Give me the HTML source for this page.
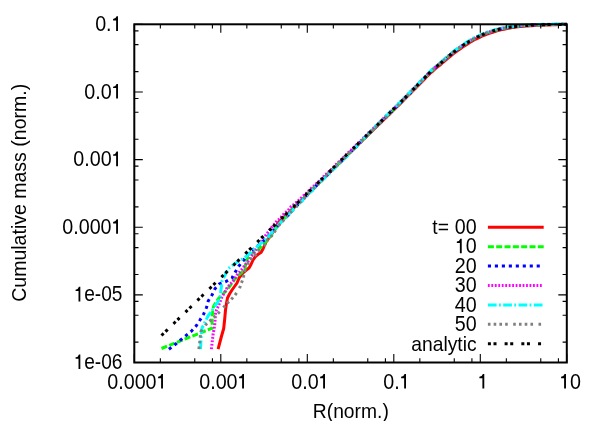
<!DOCTYPE html>
<html><head><meta charset="utf-8"><title>plot</title>
<style>html,body{margin:0;padding:0;background:#fff}svg{display:block;will-change:transform;opacity:0.999}text{font-family:"Liberation Sans",sans-serif;font-size:20.3px;fill:#000;white-space:pre}</style></head><body>
<svg width="600" height="421" viewBox="0 0 600 421">
<rect width="600" height="421" fill="#fff"/>
<path d="M218.1 349.1 L221.0 338.0 L223.7 328.5 L224.8 318.0 L225.5 310.0 L226.5 303.0 L227.5 298.0 L229.5 294.0 L232.0 290.0 L234.5 286.5 L237.0 283.0 L238.3 280.0 L239.0 278.0 L241.0 275.3 L243.0 273.0 L246.0 270.3 L249.0 268.0 L251.0 264.5 L253.0 260.0 L254.5 257.8 L256.0 256.0 L258.5 254.0 L261.0 252.5 L263.0 249.0 L264.0 246.5 L266.0 242.0 L269.0 237.8 L272.0 233.5 L275.0 229.0 L278.0 223.0 L280.0 220.7 L282.0 219.3 L284.0 217.5 L286.0 215.3 L288.0 213.5 L290.0 211.5 L292.0 209.3 L294.0 207.6 L296.0 205.6 L298.0 203.4 L300.0 201.3 L302.0 199.6 L304.0 197.8 L306.0 195.1 L308.0 193.2 L310.0 191.2 L312.0 189.4 L314.0 187.9 L316.0 185.7 L318.0 183.6 L320.0 182.0 L322.0 180.0 L324.0 177.9 L326.0 176.0 L328.0 174.2 L330.0 171.9 L332.0 170.3 L334.0 168.0 L336.0 166.0 L338.0 164.2 L340.0 162.5 L342.0 160.3 L344.0 158.3 L346.0 156.5 L348.0 154.3 L350.0 152.4 L352.0 150.6 L354.0 148.7 L356.0 146.9 L358.0 144.6 L360.0 142.7 L362.0 140.7 L364.0 138.9 L366.0 137.1 L368.0 135.0 L370.0 133.2 L372.0 131.2 L374.0 129.1 L376.0 127.2 L378.0 125.2 L380.0 123.5 L382.0 121.4 L384.0 119.5 L386.0 117.7 L388.0 115.5 L390.0 113.8 L392.0 111.8 L394.0 109.6 L396.0 107.7 L398.0 105.9 L400.0 103.9 L402.0 102.0 L404.0 99.8 L406.0 97.8 L408.0 95.7 L410.0 93.9 L412.0 91.7 L414.0 89.7 L416.0 87.8 L418.0 85.7 L420.0 83.6 L422.0 81.6 L424.0 79.6 L426.0 77.5 L428.0 75.5 L430.0 73.4 L432.0 71.8 L434.0 70.0 L436.0 68.2 L438.0 66.6 L440.0 65.1 L442.0 63.2 L444.0 61.5 L446.0 59.9 L448.0 58.2 L450.0 56.6 L452.0 54.9 L454.0 53.2 L456.0 51.8 L458.0 50.3 L460.0 48.9 L462.0 47.5 L464.0 46.1 L466.0 44.9 L468.0 43.7 L470.0 42.3 L472.0 41.1 L474.0 40.0 L476.0 39.0 L478.0 38.2 L480.0 37.1 L482.0 36.1 L484.0 35.4 L486.0 34.6 L488.0 33.7 L490.0 33.1 L492.0 32.5 L494.0 31.8 L496.0 31.2 L498.0 30.5 L500.0 30.0 L502.0 29.6 L504.0 29.2 L506.0 28.7 L508.0 28.3 L510.0 28.0 L512.0 27.6 L514.0 27.5 L516.0 27.1 L518.0 26.8 L520.0 26.6 L522.0 26.5 L524.0 26.2 L526.0 26.0 L528.0 26.0 L530.0 25.8 L532.0 25.7 L534.0 25.4 L536.0 25.3 L538.0 25.3 L540.0 25.2 L542.0 25.1 L544.0 25.0 L546.0 25.0 L548.0 25.0 L550.0 24.9 L552.0 24.8 L554.0 24.7 L556.0 24.7 L558.0 24.6 L560.0 24.6 L562.0 24.6 L564.0 24.6 L566.0 24.6 L566.8 24.5" stroke="#ff0000" stroke-width="3" fill="none" stroke-linejoin="round"/>
<path d="M161.5 348.5 L212.5 328.0 L212.0 321.0 L212.5 313.0 L213.5 306.5 L216.0 302.0 L219.0 298.0 L224.0 293.0 L230.0 286.0 L235.0 279.0 L240.0 274.0 L245.0 269.0 L246.0 260.5 L252.0 253.5 L258.0 250.0 L263.0 245.0 L267.0 240.5 L271.0 235.0 L275.0 229.5 L280.0 223.0 L282.0 220.7 L284.0 219.1 L286.0 216.7 L288.0 214.1 L290.0 212.1 L292.0 209.3 L294.0 207.2 L296.0 205.4 L298.0 203.7 L300.0 201.5 L302.0 199.3 L304.0 197.7 L306.0 195.1 L308.0 193.2 L310.0 191.6 L312.0 189.8 L314.0 187.2 L316.0 185.3 L318.0 183.7 L320.0 181.5 L322.0 179.9 L324.0 177.4 L326.0 175.8 L328.0 173.9 L330.0 171.5 L332.0 170.0 L334.0 168.1 L336.0 165.7 L338.0 163.8 L340.0 162.1 L342.0 160.2 L344.0 158.1 L346.0 156.0 L348.0 154.0 L350.0 152.4 L352.0 150.3 L354.0 148.2 L356.0 146.4 L358.0 144.5 L360.0 142.5 L362.0 140.3 L364.0 138.5 L366.0 136.5 L368.0 134.7 L370.0 132.8 L372.0 130.6 L374.0 128.7 L376.0 126.7 L378.0 124.7 L380.0 122.8 L382.0 120.9 L384.0 119.0 L386.0 116.9 L388.0 114.9 L390.0 113.2 L392.0 111.2 L394.0 109.3 L396.0 107.3 L398.0 105.3 L400.0 103.3 L402.0 101.3 L404.0 99.1 L406.0 97.3 L408.0 95.2 L410.0 93.0 L412.0 91.1 L414.0 88.8 L416.0 87.0 L418.0 84.9 L420.0 82.7 L422.0 80.8 L424.0 78.5 L426.0 76.4 L428.0 74.4 L430.0 72.5 L432.0 70.5 L434.0 68.9 L436.0 67.1 L438.0 65.4 L440.0 63.7 L442.0 62.0 L444.0 60.4 L446.0 58.6 L448.0 56.8 L450.0 55.2 L452.0 53.4 L454.0 52.0 L456.0 50.5 L458.0 49.0 L460.0 47.6 L462.0 46.1 L464.0 44.8 L466.0 43.5 L468.0 42.2 L470.0 41.0 L472.0 39.8 L474.0 38.9 L476.0 37.9 L478.0 36.7 L480.0 35.8 L482.0 35.0 L484.0 34.1 L486.0 33.4 L488.0 32.7 L490.0 32.0 L492.0 31.3 L494.0 30.7 L496.0 30.1 L498.0 29.7 L500.0 29.1 L502.0 28.6 L504.0 28.2 L506.0 27.9 L508.0 27.5 L510.0 27.2 L512.0 26.9 L514.0 26.7 L516.0 26.4 L518.0 26.3 L520.0 26.1 L522.0 25.8 L524.0 25.8 L526.0 25.6 L528.0 25.4 L530.0 25.2 L532.0 25.1 L534.0 25.1 L536.0 25.0 L538.0 24.9 L540.0 24.7 L542.0 24.8 L544.0 24.7 L546.0 24.7 L548.0 24.6 L550.0 24.4 L552.0 24.4 L554.0 24.5 L556.0 24.5 L558.0 24.4 L560.0 24.3 L562.0 24.4 L564.0 24.3 L566.0 24.4 L566.8 24.3" stroke="#00ff00" stroke-width="3" fill="none" stroke-linejoin="round" stroke-dasharray="6.0 2.32"/>
<path d="M168.9 349.2 L175.5 344.2 L181.0 339.6 L186.5 335.2 L191.8 330.8 L196.3 325.7 L200.0 320.0 L203.7 314.0 L206.5 307.5 L208.2 301.0 L212.0 295.0 L215.0 288.7 L219.3 284.0 L226.0 281.5 L232.0 278.0 L235.2 272.2 L238.5 266.5 L242.8 261.2 L246.5 256.5 L250.5 251.5 L256.0 247.3 L261.0 243.5 L266.0 238.2 L271.0 233.0 L276.0 227.8 L281.0 222.5 L283.0 220.5 L285.0 218.4 L287.0 216.4 L289.0 214.7 L291.0 211.6 L293.0 209.8 L295.0 208.2 L297.0 205.4 L299.0 203.9 L301.0 201.8 L303.0 199.3 L305.0 197.6 L307.0 195.2 L309.0 193.7 L311.0 191.4 L313.0 189.7 L315.0 187.1 L317.0 185.0 L319.0 183.1 L321.0 181.3 L323.0 179.3 L325.0 177.0 L327.0 175.4 L329.0 173.3 L331.0 171.2 L333.0 169.5 L335.0 167.2 L337.0 165.4 L339.0 163.3 L341.0 161.7 L343.0 159.6 L345.0 157.7 L347.0 155.6 L349.0 153.4 L351.0 151.5 L353.0 149.4 L355.0 147.8 L357.0 145.7 L359.0 143.8 L361.0 141.7 L363.0 139.6 L365.0 137.5 L367.0 135.4 L369.0 133.5 L371.0 131.7 L373.0 129.9 L375.0 127.6 L377.0 126.0 L379.0 123.9 L381.0 121.8 L383.0 120.0 L385.0 117.9 L387.0 116.0 L389.0 114.0 L391.0 112.1 L393.0 110.2 L395.0 108.0 L397.0 106.2 L399.0 104.1 L401.0 102.2 L403.0 100.1 L405.0 98.2 L407.0 96.0 L409.0 94.0 L411.0 92.1 L413.0 89.8 L415.0 87.7 L417.0 85.9 L419.0 83.7 L421.0 81.6 L423.0 79.6 L425.0 77.5 L427.0 75.6 L429.0 73.4 L431.0 71.5 L433.0 69.6 L435.0 68.0 L437.0 66.2 L439.0 64.5 L441.0 62.9 L443.0 61.3 L445.0 59.3 L447.0 57.6 L449.0 55.9 L451.0 54.3 L453.0 52.6 L455.0 51.2 L457.0 49.6 L459.0 48.2 L461.0 46.8 L463.0 45.5 L465.0 44.2 L467.0 42.9 L469.0 41.6 L471.0 40.4 L473.0 39.4 L475.0 38.2 L477.0 37.2 L479.0 36.2 L481.0 35.3 L483.0 34.6 L485.0 33.6 L487.0 33.0 L489.0 32.2 L491.0 31.7 L493.0 31.0 L495.0 30.4 L497.0 29.8 L499.0 29.2 L501.0 28.9 L503.0 28.4 L505.0 28.0 L507.0 27.6 L509.0 27.3 L511.0 26.9 L513.0 26.8 L515.0 26.5 L517.0 26.2 L519.0 26.1 L521.0 25.9 L523.0 25.8 L525.0 25.5 L527.0 25.4 L529.0 25.4 L531.0 25.2 L533.0 25.0 L535.0 24.9 L537.0 24.8 L539.0 24.7 L541.0 24.7 L543.0 24.6 L545.0 24.5 L547.0 24.5 L549.0 24.4 L551.0 24.3 L553.0 24.3 L555.0 24.4 L557.0 24.3 L559.0 24.3 L561.0 24.3 L563.0 24.2 L565.0 24.2 L566.8 24.2" stroke="#0000ff" stroke-width="3" fill="none" stroke-linejoin="round" stroke-dasharray="3.1 3.87"/>
<path d="M211.4 349.1 L213.0 335.0 L214.7 325.0 L215.5 314.0 L216.5 310.0 L217.5 308.0 L222.0 297.0 L227.0 288.0 L233.0 281.0 L237.0 275.0 L241.0 270.5 L245.5 264.5 L250.0 259.0 L253.5 253.0 L257.0 247.5 L262.0 240.5 L267.0 233.5 L272.0 227.0 L277.0 221.0 L279.0 219.3 L281.0 217.3 L283.0 214.9 L285.0 213.1 L287.0 211.4 L289.0 209.2 L291.0 206.7 L293.0 205.2 L295.0 203.2 L297.0 202.0 L299.0 200.1 L301.0 198.1 L303.0 196.3 L305.0 194.3 L307.0 192.8 L309.0 190.5 L311.0 188.5 L313.0 186.6 L315.0 185.3 L317.0 183.0 L319.0 181.5 L321.0 179.4 L323.0 177.2 L325.0 175.1 L327.0 173.4 L329.0 171.6 L331.0 169.8 L333.0 167.8 L335.0 165.4 L337.0 163.7 L339.0 161.7 L341.0 160.0 L343.0 157.8 L345.0 156.0 L347.0 153.8 L349.0 152.0 L351.0 150.3 L353.0 148.3 L355.0 146.0 L357.0 144.4 L359.0 142.3 L361.0 140.6 L363.0 138.4 L365.0 136.6 L367.0 134.4 L369.0 132.4 L371.0 130.8 L373.0 128.8 L375.0 126.8 L377.0 124.7 L379.0 123.0 L381.0 120.8 L383.0 119.0 L385.0 116.9 L387.0 115.0 L389.0 113.3 L391.0 111.1 L393.0 109.1 L395.0 107.3 L397.0 105.3 L399.0 103.3 L401.0 101.4 L403.0 99.5 L405.0 97.3 L407.0 95.5 L409.0 93.2 L411.0 91.2 L413.0 89.1 L415.0 87.1 L417.0 85.2 L419.0 83.1 L421.0 81.1 L423.0 79.0 L425.0 77.0 L427.0 74.9 L429.0 72.8 L431.0 70.8 L433.0 69.3 L435.0 67.4 L437.0 65.7 L439.0 64.1 L441.0 62.5 L443.0 60.8 L445.0 58.8 L447.0 57.3 L449.0 55.5 L451.0 53.9 L453.0 52.3 L455.0 50.8 L457.0 49.2 L459.0 47.7 L461.0 46.4 L463.0 45.1 L465.0 43.8 L467.0 42.5 L469.0 41.3 L471.0 40.1 L473.0 38.9 L475.0 38.0 L477.0 36.9 L479.0 36.0 L481.0 35.1 L483.0 34.1 L485.0 33.5 L487.0 32.8 L489.0 32.0 L491.0 31.3 L493.0 30.7 L495.0 30.1 L497.0 29.5 L499.0 29.1 L501.0 28.5 L503.0 28.1 L505.0 27.8 L507.0 27.4 L509.0 27.1 L511.0 26.9 L513.0 26.6 L515.0 26.4 L517.0 26.1 L519.0 25.9 L521.0 25.7 L523.0 25.6 L525.0 25.5 L527.0 25.3 L529.0 25.2 L531.0 25.1 L533.0 25.0 L535.0 24.9 L537.0 24.8 L539.0 24.7 L541.0 24.6 L543.0 24.7 L545.0 24.6 L547.0 24.5 L549.0 24.4 L551.0 24.4 L553.0 24.4 L555.0 24.4 L557.0 24.4 L559.0 24.4 L561.0 24.4 L563.0 24.3 L565.0 24.4 L566.8 24.3" stroke="#ff00ff" stroke-width="3" fill="none" stroke-linejoin="round" stroke-dasharray="1.8 1.67"/>
<path d="M200.5 349.1 L201.2 336.0 L202.0 328.0 L205.0 322.0 L208.0 316.0 L212.0 310.5 L213.5 308.0 L218.0 302.0 L220.0 297.0 L220.8 291.0 L221.5 286.0 L222.0 281.0 L224.6 276.0 L228.2 268.7 L235.3 263.3 L243.3 258.5 L248.7 254.4 L254.0 249.0 L258.5 245.5 L267.4 237.5 L272.0 232.5 L278.0 225.5 L280.0 223.2 L282.0 221.0 L284.0 219.0 L286.0 217.7 L288.0 215.5 L290.0 212.8 L292.0 211.0 L294.0 208.9 L296.0 207.2 L298.0 204.9 L300.0 202.6 L302.0 201.1 L304.0 198.6 L306.0 197.0 L308.0 194.7 L310.0 192.5 L312.0 190.7 L314.0 188.5 L316.0 186.8 L318.0 184.8 L320.0 182.8 L322.0 180.5 L324.0 178.7 L326.0 176.7 L328.0 174.9 L330.0 173.0 L332.0 170.6 L334.0 168.9 L336.0 167.0 L338.0 164.7 L340.0 162.8 L342.0 160.8 L344.0 159.1 L346.0 157.2 L348.0 155.1 L350.0 153.3 L352.0 151.1 L354.0 149.1 L356.0 146.8 L358.0 145.0 L360.0 142.5 L362.0 140.5 L364.0 138.3 L366.0 136.4 L368.0 134.2 L370.0 132.2 L372.0 130.1 L374.0 128.0 L376.0 125.7 L378.0 124.0 L380.0 121.9 L382.0 120.1 L384.0 117.9 L386.0 115.9 L388.0 114.1 L390.0 112.1 L392.0 110.2 L394.0 108.2 L396.0 106.2 L398.0 104.2 L400.0 102.4 L402.0 100.2 L404.0 98.1 L406.0 96.1 L408.0 94.1 L410.0 92.2 L412.0 90.0 L414.0 88.0 L416.0 86.0 L418.0 83.9 L420.0 81.7 L422.0 79.7 L424.0 77.7 L426.0 75.7 L428.0 73.6 L430.0 71.4 L432.0 69.6 L434.0 67.9 L436.0 66.2 L438.0 64.5 L440.0 62.8 L442.0 61.0 L444.0 59.4 L446.0 57.5 L448.0 55.9 L450.0 54.2 L452.0 52.6 L454.0 51.0 L456.0 49.5 L458.0 48.0 L460.0 46.7 L462.0 45.3 L464.0 44.0 L466.0 42.6 L468.0 41.4 L470.0 40.2 L472.0 39.1 L474.0 37.9 L476.0 37.0 L478.0 36.1 L480.0 35.0 L482.0 34.1 L484.0 33.3 L486.0 32.5 L488.0 31.9 L490.0 31.3 L492.0 30.6 L494.0 30.0 L496.0 29.4 L498.0 29.0 L500.0 28.4 L502.0 28.0 L504.0 27.6 L506.0 27.2 L508.0 26.9 L510.0 26.6 L512.0 26.4 L514.0 26.1 L516.0 25.8 L518.0 25.7 L520.0 25.5 L522.0 25.3 L524.0 25.2 L526.0 25.0 L528.0 24.9 L530.0 24.8 L532.0 24.7 L534.0 24.6 L536.0 24.5 L538.0 24.4 L540.0 24.4 L542.0 24.2 L544.0 24.2 L546.0 24.1 L548.0 24.2 L550.0 24.2 L552.0 24.1 L554.0 24.2 L556.0 24.1 L558.0 24.0 L560.0 24.1 L562.0 24.0 L564.0 24.1 L566.0 24.0 L566.8 24.0" stroke="#00ffff" stroke-width="3" fill="none" stroke-linejoin="round" stroke-dasharray="8.7 2.4 1.8 2.4"/>
<path d="M198.9 349.1 L199.7 342.5 L200.3 336.8 L201.0 331.3 L205.5 325.0 L209.8 321.0 L214.0 317.5 L218.0 313.5 L221.0 310.5 L223.5 307.5 L227.2 303.2 L231.2 299.5 L235.0 295.2 L239.5 288.5 L241.2 283.5 L243.5 278.0 L244.0 272.5 L245.5 269.0 L247.0 265.5 L249.0 260.5 L253.0 257.0 L257.0 253.5 L261.2 247.3 L265.5 244.0 L268.0 239.0 L272.0 235.5 L276.5 229.0 L281.0 222.5 L283.0 220.4 L285.0 218.5 L287.0 216.0 L289.0 214.1 L291.0 212.0 L293.0 210.1 L295.0 208.3 L297.0 205.5 L299.0 203.9 L301.0 201.2 L303.0 199.6 L305.0 197.5 L307.0 195.3 L309.0 193.3 L311.0 191.2 L313.0 189.4 L315.0 186.9 L317.0 185.4 L319.0 183.0 L321.0 181.1 L323.0 179.1 L325.0 176.9 L327.0 175.0 L329.0 173.2 L331.0 170.9 L333.0 169.0 L335.0 167.3 L337.0 165.2 L339.0 163.4 L341.0 161.2 L343.0 159.2 L345.0 157.3 L347.0 155.5 L349.0 153.5 L351.0 151.4 L353.0 149.7 L355.0 147.4 L357.0 145.5 L359.0 143.4 L361.0 141.5 L363.0 139.8 L365.0 137.9 L367.0 135.6 L369.0 133.8 L371.0 131.9 L373.0 130.0 L375.0 127.9 L377.0 126.1 L379.0 124.1 L381.0 122.0 L383.0 120.0 L385.0 118.0 L387.0 116.2 L389.0 114.1 L391.0 112.3 L393.0 110.2 L395.0 108.4 L397.0 106.4 L399.0 104.3 L401.0 102.5 L403.0 100.5 L405.0 98.3 L407.0 96.2 L409.0 94.0 L411.0 92.2 L413.0 90.1 L415.0 88.1 L417.0 85.9 L419.0 83.8 L421.0 81.7 L423.0 79.6 L425.0 77.6 L427.0 75.5 L429.0 73.3 L431.0 71.4 L433.0 69.7 L435.0 67.9 L437.0 66.4 L439.0 64.5 L441.0 62.9 L443.0 61.3 L445.0 59.4 L447.0 57.8 L449.0 56.0 L451.0 54.3 L453.0 52.8 L455.0 51.3 L457.0 49.8 L459.0 48.3 L461.0 46.9 L463.0 45.6 L465.0 44.2 L467.0 42.9 L469.0 41.7 L471.0 40.5 L473.0 39.4 L475.0 38.3 L477.0 37.4 L479.0 36.2 L481.0 35.3 L483.0 34.5 L485.0 33.8 L487.0 32.9 L489.0 32.2 L491.0 31.6 L493.0 31.1 L495.0 30.5 L497.0 29.8 L499.0 29.3 L501.0 28.8 L503.0 28.5 L505.0 28.0 L507.0 27.8 L509.0 27.3 L511.0 27.0 L513.0 26.8 L515.0 26.6 L517.0 26.3 L519.0 26.1 L521.0 26.0 L523.0 25.8 L525.0 25.6 L527.0 25.5 L529.0 25.3 L531.0 25.2 L533.0 25.2 L535.0 25.1 L537.0 25.0 L539.0 24.9 L541.0 24.9 L543.0 24.7 L545.0 24.7 L547.0 24.6 L549.0 24.6 L551.0 24.5 L553.0 24.6 L555.0 24.4 L557.0 24.4 L559.0 24.3 L561.0 24.3 L563.0 24.3 L565.0 24.3 L566.8 24.3" stroke="#808080" stroke-width="3" fill="none" stroke-linejoin="round" stroke-dasharray="2.6 3.15 2.6 3.15 2.6 3.15 2.6 5.45"/>
<path d="M161.5 335.5 L163.5 333.5 L165.5 331.6 L167.5 329.6 L169.5 327.7 L171.5 325.7 L173.5 323.8 L175.5 321.8 L177.5 319.9 L179.5 317.9 L181.5 316.0 L183.5 314.0 L185.5 312.1 L187.5 310.1 L189.5 308.2 L191.5 306.2 L193.5 304.3 L195.5 302.3 L197.5 300.4 L199.5 298.4 L201.5 296.5 L203.5 294.5 L205.5 292.6 L207.5 290.6 L209.5 288.7 L211.5 286.7 L213.5 284.8 L215.5 282.8 L217.5 280.9 L219.5 278.9 L221.5 277.0 L223.5 275.0 L225.5 273.1 L227.5 271.1 L229.5 269.2 L231.5 267.2 L233.5 265.2 L235.5 263.3 L237.5 261.3 L239.5 259.4 L241.5 257.4 L243.5 255.5 L245.5 253.5 L247.5 251.6 L249.5 249.6 L251.5 247.7 L253.5 245.7 L255.5 243.8 L257.5 241.8 L259.5 239.9 L261.5 237.9 L263.5 236.0 L265.5 234.0 L267.5 232.1 L269.5 230.1 L271.5 228.2 L273.5 226.2 L275.5 224.3 L277.5 222.3 L279.5 220.4 L281.5 218.4 L283.5 216.5 L285.5 214.5 L287.5 212.6 L289.5 210.6 L291.5 208.7 L293.5 206.7 L295.5 204.8 L297.5 202.8 L299.5 200.9 L301.5 198.9 L303.5 197.0 L305.5 195.0 L307.5 193.0 L309.5 191.1 L311.5 189.1 L313.5 187.2 L315.5 185.2 L317.5 183.3 L319.5 181.3 L321.5 179.4 L323.5 177.4 L325.5 175.5 L327.5 173.5 L329.5 171.6 L331.5 169.6 L333.5 167.7 L335.5 165.7 L337.5 163.8 L339.5 161.8 L341.5 159.9 L343.5 157.9 L345.5 156.0 L347.5 154.0 L349.5 152.1 L351.5 150.1 L353.5 148.2 L355.5 146.2 L357.5 144.3 L359.5 142.3 L361.5 140.4 L363.5 138.4 L365.5 136.5 L367.5 134.5 L369.5 132.6 L371.5 130.6 L373.5 128.7 L375.5 126.7 L377.5 124.8 L379.5 122.8 L381.5 120.9 L383.5 118.9 L385.5 117.0 L387.5 115.0 L389.5 113.0 L391.5 111.1 L393.5 109.1 L395.5 107.2 L397.5 105.2 L399.5 103.3 L401.5 101.3 L403.5 99.3 L405.5 97.3 L407.5 95.2 L409.5 93.2 L411.5 91.1 L413.5 89.1 L415.5 87.0 L417.5 85.0 L419.5 82.9 L421.5 80.9 L423.5 78.9 L425.5 76.8 L427.5 74.7 L429.5 72.7 L431.5 70.8 L433.5 69.0 L435.5 67.3 L437.5 65.7 L439.5 64.0 L441.5 62.3 L443.5 60.6 L445.5 58.8 L447.5 57.1 L449.5 55.4 L451.5 53.7 L453.5 52.2 L455.5 50.6 L457.5 49.2 L459.5 47.7 L461.5 46.3 L463.5 45.0 L465.5 43.7 L467.5 42.4 L469.5 41.2 L471.5 40.1 L473.5 39.0 L475.5 37.9 L477.5 36.9 L479.5 36.0 L481.5 35.1 L483.5 34.2 L485.5 33.4 L487.5 32.7 L489.5 32.0 L491.5 31.4 L493.5 30.7 L495.5 30.2 L497.5 29.6 L499.5 29.1 L501.5 28.6 L503.5 28.2 L505.5 27.9 L507.5 27.5 L509.5 27.2 L511.5 26.9 L513.5 26.6 L515.5 26.4 L517.5 26.2 L519.5 26.0 L521.5 25.8 L523.5 25.7 L525.5 25.5 L527.5 25.4 L529.5 25.3 L531.5 25.1 L533.5 25.1 L535.5 25.0 L537.5 24.9 L539.5 24.8 L541.5 24.7 L543.5 24.7 L545.5 24.6 L547.5 24.6 L549.5 24.5 L551.5 24.5 L553.5 24.4 L555.5 24.4 L557.5 24.4 L559.5 24.4 L561.5 24.4 L563.5 24.3 L565.5 24.3 L566.8 24.3" stroke="#000" stroke-width="3" fill="none" stroke-dasharray="3.0 2.6 3.0 8.12" stroke-dashoffset="0"/>
<path d="M134.30 362.50v-8.50 M134.30 24.30v8.50 M134.30 24.30h8.50 M566.80 24.30h-8.50 M160.34 362.50v-4.20 M160.34 24.30v4.20 M134.30 71.58h4.20 M566.80 71.58h-4.20 M194.76 362.50v-4.20 M194.76 24.30v4.20 M134.30 44.66h4.20 M566.80 44.66h-4.20 M212.42 362.50v-4.20 M212.42 24.30v4.20 M134.30 30.85h4.20 M566.80 30.85h-4.20 M220.80 362.50v-8.50 M220.80 24.30v8.50 M134.30 91.94h8.50 M566.80 91.94h-8.50 M246.84 362.50v-4.20 M246.84 24.30v4.20 M134.30 139.22h4.20 M566.80 139.22h-4.20 M281.26 362.50v-4.20 M281.26 24.30v4.20 M134.30 112.30h4.20 M566.80 112.30h-4.20 M298.92 362.50v-4.20 M298.92 24.30v4.20 M134.30 98.49h4.20 M566.80 98.49h-4.20 M307.30 362.50v-8.50 M307.30 24.30v8.50 M134.30 159.58h8.50 M566.80 159.58h-8.50 M333.34 362.50v-4.20 M333.34 24.30v4.20 M134.30 206.86h4.20 M566.80 206.86h-4.20 M367.76 362.50v-4.20 M367.76 24.30v4.20 M134.30 179.94h4.20 M566.80 179.94h-4.20 M385.42 362.50v-4.20 M385.42 24.30v4.20 M134.30 166.13h4.20 M566.80 166.13h-4.20 M393.80 362.50v-8.50 M393.80 24.30v8.50 M134.30 227.22h8.50 M566.80 227.22h-8.50 M419.84 362.50v-4.20 M419.84 24.30v4.20 M134.30 274.50h4.20 M566.80 274.50h-4.20 M454.26 362.50v-4.20 M454.26 24.30v4.20 M134.30 247.58h4.20 M566.80 247.58h-4.20 M471.92 362.50v-4.20 M471.92 24.30v4.20 M134.30 233.77h4.20 M566.80 233.77h-4.20 M480.30 362.50v-8.50 M480.30 24.30v8.50 M134.30 294.86h8.50 M566.80 294.86h-8.50 M506.34 362.50v-4.20 M506.34 24.30v4.20 M134.30 342.14h4.20 M566.80 342.14h-4.20 M540.76 362.50v-4.20 M540.76 24.30v4.20 M134.30 315.22h4.20 M566.80 315.22h-4.20 M558.42 362.50v-4.20 M558.42 24.30v4.20 M134.30 301.41h4.20 M566.80 301.41h-4.20 M566.80 362.50v-8.50 M566.80 24.30v8.50 M134.30 362.50h8.50 M566.80 362.50h-8.50" stroke="#000" stroke-width="1.1" fill="none"/>
<rect x="134.30" y="24.30" width="432.50" height="338.20" fill="none" stroke="#000" stroke-width="2.0"/>
<g transform="translate(122.60 30.90) scale(0.927 1)"><text x="-29.61" y="0" style="font-size:21.3px">0.</text><path transform="translate(-11.84 0) scale(0.02130 -0.02130)" d="M322 0H228V490H75V553Q210 563 252 688H322Z"/></g>
<g transform="translate(122.60 98.54) scale(0.927 1)"><text x="-41.45" y="0" style="font-size:21.3px">0.0</text><path transform="translate(-11.84 0) scale(0.02130 -0.02130)" d="M322 0H228V490H75V553Q210 563 252 688H322Z"/></g>
<g transform="translate(122.60 166.18) scale(0.927 1)"><text x="-53.29" y="0" style="font-size:21.3px">0.00</text><path transform="translate(-11.84 0) scale(0.02130 -0.02130)" d="M322 0H228V490H75V553Q210 563 252 688H322Z"/></g>
<g transform="translate(122.60 233.82) scale(0.927 1)"><text x="-65.14" y="0" style="font-size:21.3px">0.000</text><path transform="translate(-11.84 0) scale(0.02130 -0.02130)" d="M322 0H228V490H75V553Q210 563 252 688H322Z"/></g>
<g transform="translate(122.40 301.46) scale(0.898 1)"><path transform="translate(-53.72 0) scale(0.02130 -0.02130)" d="M322 0H228V490H75V553Q210 563 252 688H322Z"/><text x="-42.62" y="0" style="font-size:21.3px">e-05</text></g>
<g transform="translate(122.40 369.10) scale(0.898 1)"><path transform="translate(-53.72 0) scale(0.02130 -0.02130)" d="M322 0H228V490H75V553Q210 563 252 688H322Z"/><text x="-42.62" y="0" style="font-size:21.3px">e-06</text></g>
<g transform="translate(137.40 388.60) scale(0.927 1)"><text x="-32.57" y="0" style="font-size:21.3px">0.000</text><path transform="translate(20.72 0) scale(0.02130 -0.02130)" d="M322 0H228V490H75V553Q210 563 252 688H322Z"/></g>
<g transform="translate(223.90 388.60) scale(0.927 1)"><text x="-26.65" y="0" style="font-size:21.3px">0.00</text><path transform="translate(14.80 0) scale(0.02130 -0.02130)" d="M322 0H228V490H75V553Q210 563 252 688H322Z"/></g>
<g transform="translate(310.40 388.60) scale(0.927 1)"><text x="-20.72" y="0" style="font-size:21.3px">0.0</text><path transform="translate(8.88 0) scale(0.02130 -0.02130)" d="M322 0H228V490H75V553Q210 563 252 688H322Z"/></g>
<g transform="translate(396.90 388.60) scale(0.927 1)"><text x="-14.80" y="0" style="font-size:21.3px">0.</text><path transform="translate(2.96 0) scale(0.02130 -0.02130)" d="M322 0H228V490H75V553Q210 563 252 688H322Z"/></g>
<g transform="translate(483.40 388.60) scale(0.927 1)"><path transform="translate(-5.92 0) scale(0.02130 -0.02130)" d="M322 0H228V490H75V553Q210 563 252 688H322Z"/></g>
<g transform="translate(569.90 388.60) scale(0.927 1)"><path transform="translate(-11.10 0) scale(0.02130 -0.02130)" d="M322 0H228V490H75V553Q210 563 252 688H322Z"/><text x="0.00" y="0" style="font-size:21.3px">0</text></g>
<text transform="translate(350.8 417.5) scale(0.95 1)" text-anchor="middle">R(norm.)</text>
<text transform="translate(26.4 192.8) rotate(-90) scale(0.962 1)" text-anchor="middle">Cumulative mass (norm.)</text>
<text transform="translate(432.3 233.90) scale(0.95 1)">t=</text>
<text transform="translate(476.60 233.90) scale(0.925 1)" text-anchor="end" style="font-size:21.3px">00</text>
<path d="M487.9 227.20H543.7" stroke="#ff0000" stroke-width="3" fill="none"/>
<g transform="translate(476.60 253.33) scale(0.925 1)"><path transform="translate(-22.94 0) scale(0.02130 -0.02130)" d="M322 0H228V490H75V553Q210 563 252 688H322Z"/><text x="-11.84" y="0" style="font-size:21.3px">0</text></g>
<path d="M487.9 246.63H543.7" stroke="#00ff00" stroke-width="3" fill="none" stroke-dasharray="6.0 2.32"/>
<text transform="translate(476.60 272.76) scale(0.925 1)" text-anchor="end" style="font-size:21.3px">20</text>
<path d="M487.9 266.06H543.4" stroke="#0000ff" stroke-width="3" fill="none" stroke-dasharray="3.1 3.87"/>
<text transform="translate(476.60 292.19) scale(0.925 1)" text-anchor="end" style="font-size:21.3px">30</text>
<path d="M487.9 285.49H542.0" stroke="#ff00ff" stroke-width="3" fill="none" stroke-dasharray="1.8 1.67"/>
<text transform="translate(476.60 311.62) scale(0.925 1)" text-anchor="end" style="font-size:21.3px">40</text>
<path d="M487.9 304.92H543.7" stroke="#00ffff" stroke-width="3" fill="none" stroke-dasharray="8.7 2.4 1.8 2.4"/>
<text transform="translate(476.60 331.05) scale(0.925 1)" text-anchor="end" style="font-size:21.3px">50</text>
<path d="M487.9 324.35H543.7" stroke="#808080" stroke-width="3" fill="none" stroke-dasharray="2.6 3.15 2.6 3.15 2.6 3.15 2.6 5.45"/>
<text transform="translate(476.60 351.08) scale(0.95 1)" text-anchor="end" style="font-size:20.3px">analytic</text>
<path d="M487.9 343.78H543.7" stroke="#000000" stroke-width="3" fill="none" stroke-dasharray="3.0 2.6 3.0 8.12"/>
</svg></body></html>
